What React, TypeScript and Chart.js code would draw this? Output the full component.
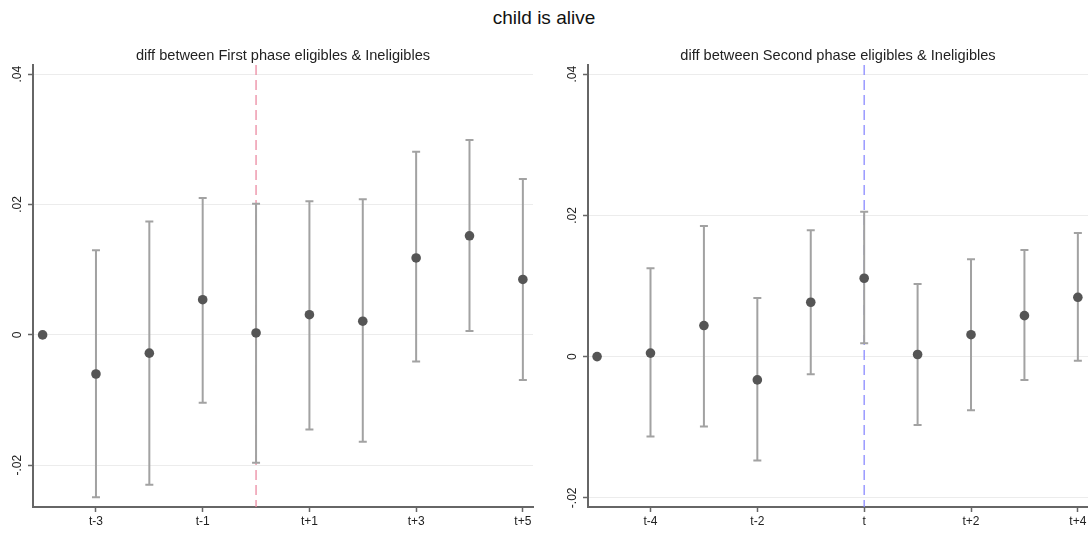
import React, { useEffect, useRef } from "react";
import { Chart, registerables } from "chart.js";

Chart.register(...registerables);

const mainTitle = "child is alive";
const leftTitle = "diff between First phase eligibles & Ineligibles";
const rightTitle = "diff between Second phase eligibles & Ineligibles";

// First phase panel
const leftPeriods = [-4, -3, -2, -1, 0, 1, 2, 3, 4, 5];
const leftCoef = [0, -0.006, -0.0028, 0.0054, 0.0003, 0.0031, 0.0021, 0.0118, 0.0152, 0.0085];
const leftLower = [null, -0.0249, -0.023, -0.0104, -0.0196, -0.0145, -0.0164, -0.0041, 0.0006, -0.0069];
const leftUpper = [null, 0.013, 0.0174, 0.021, 0.0201, 0.0205, 0.0208, 0.0281, 0.0299, 0.0239];
const leftTickValues = [-3, -1, 1, 3, 5];
const leftTickLabels = ["t-3", "t-1", "t+1", "t+3", "t+5"];

// Second phase panel
const rightPeriods = [-5, -4, -3, -2, -1, 0, 1, 2, 3, 4];
const rightCoef = [0, 0.0005, 0.0044, -0.0033, 0.0077, 0.0111, 0.0003, 0.0031, 0.0058, 0.0084];
const rightLower = [null, -0.0113, -0.0099, -0.0147, -0.0025, 0.0019, -0.0097, -0.0076, -0.0033, -0.0006];
const rightUpper = [null, 0.0125, 0.0185, 0.0083, 0.0179, 0.0205, 0.0103, 0.0138, 0.0151, 0.0175];
const rightTickValues = [-4, -2, 0, 2, 4];
const rightTickLabels = ["t-4", "t-2", "t", "t+2", "t+4"];

const yTickValues = [-0.02, 0, 0.02, 0.04];
const yTickLabels = ["-.02", "0", ".02", ".04"];

const FONT = "'Liberation Sans', Arial, sans-serif";

type PanelProps = {
  left: number;
  title: string;
  periods: number[];
  coef: number[];
  lower: (number | null)[];
  upper: (number | null)[];
  xTicks: number[];
  xLabels: string[];
  xMin: number;
  xMax: number;
  yMin: number;
  yMax: number;
  eventColor: string;
  yAxisWidth: number;
  padRight: number;
};

function Panel(p: PanelProps) {
  const ref = useRef<HTMLCanvasElement | null>(null);
  useEffect(() => {
    if (!ref.current) return;
    const decor = {
      id: "decor",
      beforeDatasetsDraw(chart: any) {
        const { ctx, chartArea, scales } = chart;
        const x = scales.x;
        const y = scales.y;
        ctx.save();
        const ex = x.getPixelForValue(0);
        ctx.strokeStyle = p.eventColor;
        ctx.lineWidth = 1.3;
        ctx.setLineDash([10, 5]);
        ctx.beginPath();
        ctx.moveTo(ex, chartArea.top);
        ctx.lineTo(ex, chartArea.bottom);
        ctx.stroke();
        ctx.setLineDash([]);
        ctx.strokeStyle = "#a2a2a2";
        ctx.lineWidth = 2;
        p.periods.forEach((per, i) => {
          const lo = p.lower[i];
          const hi = p.upper[i];
          if (lo == null || hi == null) return;
          const px = x.getPixelForValue(per);
          const y1 = y.getPixelForValue(lo);
          const y2 = y.getPixelForValue(hi);
          ctx.beginPath();
          ctx.moveTo(px, y1);
          ctx.lineTo(px, y2);
          ctx.moveTo(px - 4, y1);
          ctx.lineTo(px + 4, y1);
          ctx.moveTo(px - 4, y2);
          ctx.lineTo(px + 4, y2);
          ctx.stroke();
        });
        ctx.restore();
      },
    };
    const chart = new Chart(ref.current, {
      type: "scatter",
      data: {
        datasets: [
          {
            data: p.periods.map((per, i) => ({ x: per, y: p.coef[i] })),
            backgroundColor: "#555555",
            borderColor: "#555555",
            borderWidth: 0,
            pointRadius: 4.8,
            pointHoverRadius: 4.8,
            clip: false,
          },
        ],
      },
      options: {
        animation: false,
        responsive: false,
        devicePixelRatio: 1,
        layout: { autoPadding: false, padding: { top: 65, right: p.padRight, left: 0, bottom: 0 } },
        plugins: { legend: { display: false }, tooltip: { enabled: false }, title: { display: false } },
        scales: {
          x: {
            type: "linear",
            min: p.xMin,
            max: p.xMax,
            afterBuildTicks: (axis: any) => {
              axis.ticks = p.xTicks.map((v) => ({ value: v }));
            },
            afterFit: (axis: any) => {
              axis.height = 27;
              axis.paddingLeft = 0;
              axis.paddingRight = 0;
            },
            ticks: {
              autoSkip: false,
              maxRotation: 0,
              minRotation: 0,
              padding: 2,
              color: "#222",
              font: { family: FONT, size: 12 },
              callback: (_v: any, i: number) => p.xLabels[i],
            },
            grid: { drawOnChartArea: false, drawTicks: true, tickLength: 5, tickColor: "#666", tickWidth: 1.5 },
            border: { display: true, color: "#666", width: 2 },
          },
          y: {
            type: "linear",
            min: p.yMin,
            max: p.yMax,
            afterBuildTicks: (axis: any) => {
              axis.ticks = yTickValues.map((v) => ({ value: v }));
            },
            afterFit: (axis: any) => {
              axis.width = p.yAxisWidth;
              axis.paddingTop = 0;
              axis.paddingBottom = 0;
            },
            ticks: {
              autoSkip: false,
              minRotation: 90,
              maxRotation: 90,
              crossAlign: "center",
              padding: 0,
              color: "#222",
              font: { family: FONT, size: 12 },
              callback: (_v: any, i: number) => yTickLabels[i],
            },
            grid: { color: "#ececec", lineWidth: 1, drawTicks: true, tickLength: 5, tickColor: "#666", tickWidth: 1.5 },
            border: { display: true, color: "#666", width: 2 },
          },
        },
      } as any,
      plugins: [decor],
    });
    return () => chart.destroy();
  }, []);
  const plotLeft = p.yAxisWidth;
  const plotRight = 544 - p.padRight;
  return (
    <div style={{ position: "absolute", left: p.left, top: 0, width: 544, height: 534 }}>
      <canvas ref={ref} width={544} height={534} style={{ display: "block" }} />
      <div
        style={{
          position: "absolute",
          left: plotLeft,
          width: plotRight - plotLeft,
          top: 46,
          height: 18,
          lineHeight: "18px",
          textAlign: "center",
          fontFamily: FONT,
          fontSize: 14.6,
          color: "#222",
          whiteSpace: "nowrap",
        }}
      >
        {p.title}
      </div>
    </div>
  );
}

export default function App() {
  return (
    <div style={{ position: "absolute", left: 0, top: 0, width: 1088, height: 534, background: "#fff", overflow: "hidden" }}>
      <div
        style={{
          position: "absolute",
          left: 0,
          top: 7,
          width: 1088,
          height: 22,
          lineHeight: "22px",
          textAlign: "center",
          fontFamily: FONT,
          fontSize: 19,
          color: "#111",
        }}
      >
        {mainTitle}
      </div>
      <Panel
        left={0}
        title={leftTitle}
        periods={leftPeriods}
        coef={leftCoef}
        lower={leftLower}
        upper={leftUpper}
        xTicks={leftTickValues}
        xLabels={leftTickLabels}
        xMin={-4.18}
        xMax={5.19}
        yMin={-0.0264}
        yMax={0.0414}
        eventColor="#ec8aa2"
        yAxisWidth={33}
        padRight={11}
      />
      <Panel
        left={544}
        title={rightTitle}
        periods={rightPeriods}
        coef={rightCoef}
        lower={rightLower}
        upper={rightUpper}
        xTicks={rightTickValues}
        xLabels={rightTickLabels}
        xMin={-5.17}
        xMax={4.19}
        yMin={-0.0213}
        yMax={0.0413}
        eventColor="#8a8aff"
        yAxisWidth={44}
        padRight={0}
      />
    </div>
  );
}
